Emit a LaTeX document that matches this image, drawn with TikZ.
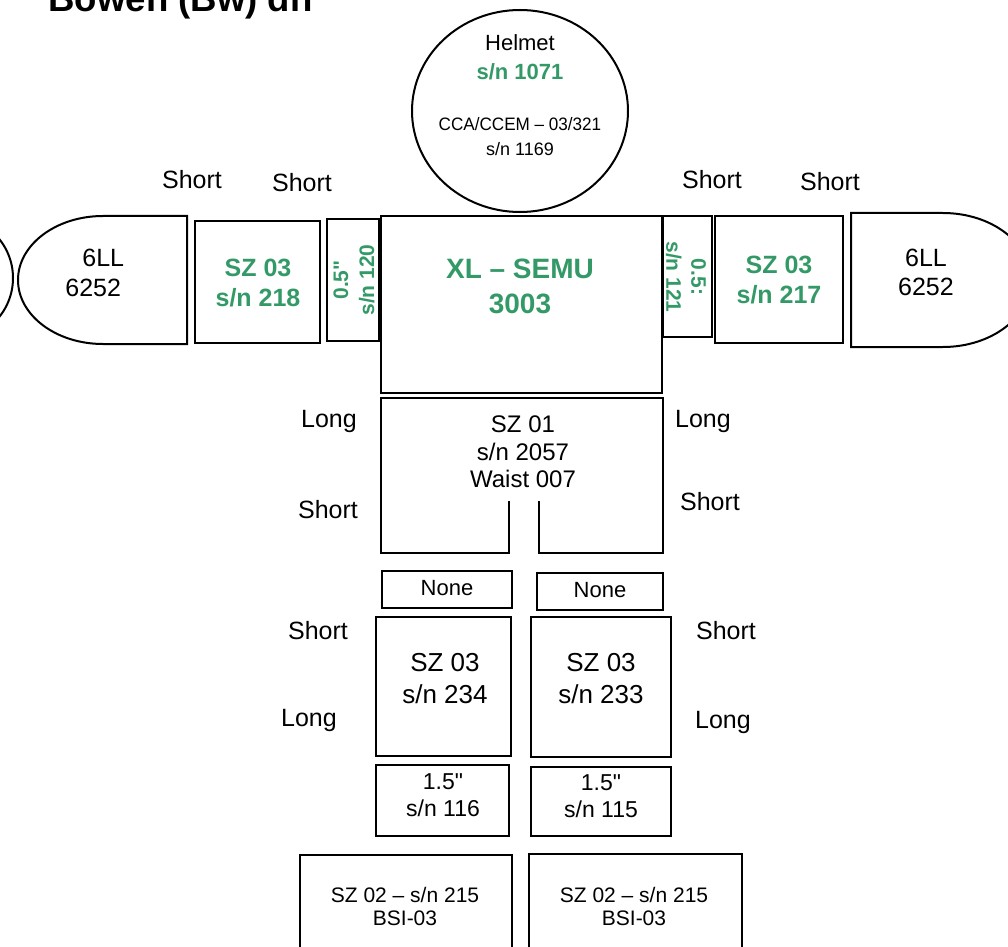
\documentclass[tikz,border=0pt]{standalone}
\usepackage{fontspec}
\setmainfont{Liberation Sans}
\definecolor{suitgreen}{RGB}{51,153,102}

\begin{document}
\begin{tikzpicture}[
    x={(0.5pt,0pt)},
    y={(0pt,-0.5pt)},
    line join=miter,
    part/.style={
        line width=1pt
    },
    side/.style={
        inner sep=0pt,
        font=\fontsize{12.5}{15}\selectfont
    },
    info/.style={
        inner sep=0pt,
        align=center,
        font=\fontsize{12}{13.75}\selectfont
    },
    tag/.style={
        inner sep=0pt,
        align=center,
        text=suitgreen,
        font=\bfseries\fontsize{12.5}{15}\selectfont
    }
]

% =================================================
% Page
% =================================================

\useasboundingbox (0,0) rectangle (1008,947);
\clip (0,0) rectangle (1008,947);

\node[anchor=base west, inner sep=0pt,
      font=\bfseries\fontsize{18.3}{22}\selectfont] (title) at (48,12) {Bowen (Bw) dn};

% =================================================
% Helmet
% =================================================

\draw[part] (520,111) ellipse [x radius=108, y radius=101];

\node[info, font=\fontsize{11}{14.5}\selectfont] (helmet) at (520,57)
    {Helmet\\\textcolor{suitgreen}{\bfseries s/n 1071}};
\node[info, font=\fontsize{9}{12.5}\selectfont] (cca) at (520,137)
    {\scalebox{0.95}[1]{CCA/CCEM -- 03/321}\\s/n 1169};

% =================================================
% Upper torso and arms
% =================================================

\draw[part] (381,216) rectangle (662,393);
\node[tag, font=\bfseries\fontsize{14}{17.5}\selectfont] (semu) at (520,286)
    {XL -- SEMU\\3003};

% 0.5" sizing rings
\draw[part] (327,219) rectangle (379,341);
\node[tag, rotate=90, font=\bfseries\fontsize{10.5}{13}\selectfont] (ringL) at (354,280)
    {0.5\textquotedbl\\s/n 120};

\draw[part] (663,216) rectangle (712,337);
\node[tag, rotate=-90, font=\bfseries\fontsize{10.5}{12.5}\selectfont] (ringR) at (686,277)
    {0.5:\\s/n 121};

% arm assemblies
\draw[part] (195,221) rectangle (320,343);
\node[tag] (armL) at (258,283) {SZ 03\\s/n 218};

\draw[part] (715,216) rectangle (843,343);
\node[tag] (armR) at (779,280) {SZ 03\\s/n 217};

% gloves
\draw[part] (187,216) -- (103,216)
    arc[start angle=-90, end angle=-270, x radius=85, y radius=64]
    -- (187,344) -- cycle;
\node[info, anchor=west, align=left, font=\fontsize{12.5}{15}\selectfont] (gloveL) at (65,273)
    {\hspace*{8.5pt}6LL\\6252};

\draw[part] (851,213) -- (943,213)
    arc[start angle=-90, end angle=90, x radius=88, y radius=67]
    -- (851,347) -- cycle;
\node[info, font=\fontsize{12.5}{14.5}\selectfont] (gloveR) at (926,272)
    {6LL\\6252};

\draw[part] (-49,278) circle [radius=62];

\node[side] (armLa) at (192,180) {Short};
\node[side] (armLb) at (302,183) {Short};
\node[side] (armRa) at (712,180) {Short};
\node[side] (armRb) at (830,182) {Short};

% =================================================
% Lower torso
% =================================================

\draw[part] (509,501) -- (509,553) -- (381,553) -- (381,398)
    -- (663,398) -- (663,553) -- (539,553) -- (539,501);
\node[info] (waist) at (523,452) {SZ 01\\s/n 2057\\Waist 007};

\node[side] (waistLa) at (329,421) {Long};
\node[side] (waistLb) at (328,510) {Short};
\node[side] (waistRa) at (703,421) {Long};
\node[side] (waistRb) at (710,502) {Short};

% =================================================
% Legs
% =================================================

\draw[part] (382,571) rectangle (512,608);
\node[info, font=\fontsize{11}{13}\selectfont] (noneL) at (447,588) {None};
\draw[part] (537,573) rectangle (663,610);
\node[info, font=\fontsize{11}{13}\selectfont] (noneR) at (600,590) {None};

\draw[part] (376,617) rectangle (511,756);
\node[info, font=\fontsize{13}{16}\selectfont] (legL) at (445,679) {SZ 03\\s/n 234};
\draw[part] (531,617) rectangle (671,757);
\node[info, font=\fontsize{13}{16}\selectfont] (legR) at (601,679) {SZ 03\\s/n 233};

\node[side] (legLa) at (318,631) {Short};
\node[side] (legLb) at (309,720) {Long};
\node[side] (legRa) at (726,631) {Short};
\node[side] (legRb) at (723,722) {Long};

\draw[part] (376,765) rectangle (509,836);
\node[info, font=\fontsize{11.5}{13.5}\selectfont] (ankleL) at (443,795) {1.5\textquotedbl\\s/n 116};
\draw[part] (531,767) rectangle (671,836);
\node[info, font=\fontsize{11.5}{13.5}\selectfont] (ankleR) at (601,796) {1.5\textquotedbl\\s/n 115};

% =================================================
% Boots
% =================================================

\draw[part] (300,855) rectangle (512,960);
\node[info, font=\fontsize{10.5}{11.5}\selectfont] (bootL) at (405,906) {SZ 02 -- s/n 215\\BSI-03};
\draw[part] (529,854) rectangle (742,960);
\node[info, font=\fontsize{10.5}{11.5}\selectfont] (bootR) at (634,906) {SZ 02 -- s/n 215\\BSI-03};

\end{tikzpicture}
\end{document}
